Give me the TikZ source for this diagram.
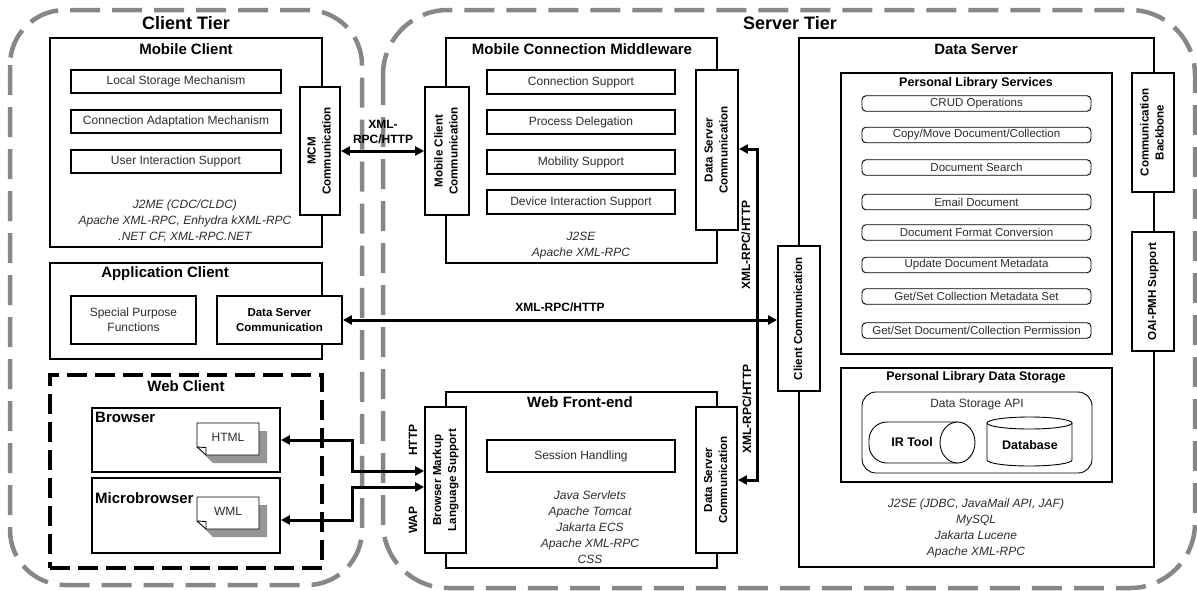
\documentclass[tikz,border=0pt]{standalone}
\usepackage{fontspec}
\setmainfont{Liberation Sans}
\usetikzlibrary{arrows.meta}
\definecolor{tiergray}{RGB}{135,135,135}
\definecolor{shadowgray}{RGB}{150,150,150}
\definecolor{txtgray}{RGB}{45,45,45}
\newcommand{\myvtext}[1]{\rotatebox{90}{\begin{tabular}{@{}c@{}}#1\end{tabular}}}
\begin{document}
\begin{tikzpicture}[x=1pt,y=-1pt,
  tier/.style={draw=tiergray, line width=4.5pt, dash pattern=on 30pt off 12pt},
  outerbox/.style={draw, line width=2.6pt, fill=white, inner sep=0pt},
  innerbox/.style={draw, line width=1.8pt, fill=white, inner sep=0pt, align=center, text=txtgray, font=\fontsize{12}{15}\selectfont},
  vbox/.style={draw, line width=1.8pt, fill=white, inner sep=0pt, font=\bfseries\fontsize{11.6}{15}\selectfont},
  svc/.style={draw, line width=0.9pt, rounded corners=4pt, fill=white, inner sep=0pt, minimum width=229pt, minimum height=15.5pt, text=txtgray, font=\fontsize{11.5}{13}\selectfont},
  boxtitle/.style={font=\bfseries\fontsize{15}{18}\selectfont},
  subtitle/.style={font=\bfseries\fontsize{12.5}{15}\selectfont},
  tiertitle/.style={font=\bfseries\fontsize{18}{22}\selectfont},
  tech/.style={align=center, text=txtgray, font=\itshape\fontsize{12}{16}\selectfont},
  plain/.style={text=txtgray, font=\fontsize{12}{15}\selectfont},
  thinline/.style={line width=0.9pt},
  conn/.style={line width=3pt, {Triangle[length=9pt,width=9pt]}-{Triangle[length=9pt,width=9pt]}},
  conlbl/.style={font=\bfseries\fontsize{12}{15}\selectfont, align=center},
]
\useasboundingbox (0,0) rectangle (1197,590);
% tiers
\draw[tier, rounded corners=55pt] (10,10) rectangle (362,585);
\draw[tier, rounded corners=65pt] (383,10) rectangle (1195,588);
\node[tiertitle] (clienttier) at (186,23) {Client Tier};
\node[tiertitle] (servertier) at (790,23) {Server Tier};

% Mobile client
\node[outerbox, minimum width=272pt, minimum height=209pt] (mobile) at (186,142.5) {};
\node[boxtitle] (mobilet) at (186,49) {Mobile Client};
\node[innerbox, minimum width=210pt, minimum height=23pt] (lsm) at (176,81.5) {Local Storage Mechanism};
\node[innerbox, minimum width=210pt, minimum height=23pt] (cam) at (176,121.5) {Connection Adaptation Mechanism};
\node[innerbox, minimum width=210pt, minimum height=23pt] (uis) at (176,161.5) {User Interaction Support};
\node[vbox, minimum width=40pt, minimum height=128pt] (mcmc) at (320,151) {\myvtext{MCM\\Communication}};
\node[tech] (mobtech) at (185,221) {J2ME (CDC/CLDC)\\Apache XML-RPC, Enhydra kXML-RPC\\.NET CF, XML-RPC.NET};

% Mobile Connection Middleware
\node[outerbox, minimum width=271pt, minimum height=225pt] (mcm) at (581.5,150.5) {};
\node[boxtitle] (mcmt) at (582,49) {Mobile Connection Middleware};
\node[innerbox, minimum width=188pt, minimum height=24pt] (cs) at (581,82) {Connection Support};
\node[innerbox, minimum width=188pt, minimum height=24pt] (pd) at (581,122) {Process Delegation};
\node[innerbox, minimum width=188pt, minimum height=24pt] (ms) at (581,162) {Mobility Support};
\node[innerbox, minimum width=188pt, minimum height=24pt] (dis) at (581,202) {Device Interaction Support};
\node[vbox, minimum width=44pt, minimum height=128pt] (mcc) at (447,151) {\myvtext{Mobile Client\\Communication}};
\node[vbox, minimum width=42pt, minimum height=160pt] (mdsc) at (717,150) {\myvtext{Data Server\\Communication}};
\node[tech] (mcmtech) at (581,246) {J2SE\\Apache XML-RPC};

% Data server
\node[outerbox, minimum width=355pt, minimum height=529pt] (ds) at (976.5,302.5) {};
\node[boxtitle] (dst) at (976,49) {Data Server};
\node[innerbox, minimum width=271pt, minimum height=281pt] (pls) at (976.5,213.5) {};
\node[subtitle] (plst) at (976,83) {Personal Library Services};
\node[svc] (s1) at (976.5,103.5) {CRUD Operations};
\node[svc] (s2) at (976.5,135) {Copy/Move Document/Collection};
\node[svc] (s3) at (976.5,167.5) {Document Search};
\node[svc] (s4) at (976.5,202) {Email Document};
\node[svc] (s5) at (976.5,232.5) {Document Format Conversion};
\node[svc] (s6) at (976.5,265) {Update Document Metadata};
\node[svc] (s7) at (976.5,296.5) {Get/Set Collection Metadata Set};
\node[svc] (s8) at (976.5,330.5) {Get/Set Document/Collection Permission};
\node[vbox, minimum width=42pt, minimum height=119pt] (cb) at (1153,132.5) {\myvtext{Communication\\Backbone}};
\node[vbox, minimum width=42pt, minimum height=119pt] (oai) at (1153,291.5) {\myvtext{OAI-PMH Support}};
\node[vbox, minimum width=42pt, minimum height=145pt] (cc) at (799,318.5) {\myvtext{Client Communication}};
\node[innerbox, minimum width=271pt, minimum height=114pt] (plds) at (976.5,425) {};
\node[subtitle] (pldst) at (976,377) {Personal Library Data Storage};
\node[draw, thinline, rounded corners=14pt, minimum width=230pt, minimum height=81pt] (dsapi) at (977,432.5) {};
\node[plain] (dsapit) at (977,405) {Data Storage API};
\draw[thinline, rounded corners=18pt] (957.5,422) -- (869,422) -- (869,463) -- (957.5,463);
\draw[thinline, fill=white] (957.5,442.5) ellipse[x radius=17.5, y radius=20.5];
\node[subtitle] (irtool) at (912,442) {IR Tool};
\draw[thinline, fill=white] (987,423) -- (987,460) arc[start angle=180, end angle=0, x radius=42.5, y radius=6] -- (1072,423);
\draw[thinline, fill=white] (1029.5,423) ellipse[x radius=42.5, y radius=6];
\node[subtitle] (dbt) at (1030,445) {Database};
\node[tech] (dstech) at (976,528.5) {J2SE (JDBC, JavaMail API, JAF)\\MySQL\\Jakarta Lucene\\Apache XML-RPC};

% Application client
\node[outerbox, minimum width=272pt, minimum height=96pt] (app) at (186,311) {};
\node[boxtitle] (appt) at (165,274) {Application Client};
\node[innerbox, minimum width=125pt, minimum height=48pt] (spf) at (133.5,320) {Special Purpose\\Functions};
\node[innerbox, minimum width=125pt, minimum height=48pt, text=black, font=\bfseries\fontsize{11.5}{15}\selectfont] (adsc) at (279.5,320) {Data Server\\Communication};

% Web client
\node[draw, line width=3.2pt, dash pattern=on 20pt off 8pt, fill=white, minimum width=272pt, minimum height=193pt] (web) at (186,471.5) {};
\node[boxtitle] (webt) at (186,386) {Web Client};
\node[innerbox, minimum width=188pt, minimum height=64pt] (browser) at (186,440) {};
\node[boxtitle, anchor=west, inner sep=0pt] (browsert) at (95,417) {Browser};
\fill[shadowgray] (205,431) -- (267,431) -- (267,463) -- (213,463) -- (205,455) -- cycle;
\draw[thinline, fill=white] (197,423) -- (259,423) -- (259,455) -- (206,455) -- (197,447) -- cycle;
\draw[thinline] (197,447) -- (206,447.5) -- (206,455);
\node[plain] (html) at (228,437) {HTML};
\node[innerbox, minimum width=188pt, minimum height=75pt] (micro) at (186,515.5) {};
\node[boxtitle, anchor=west, inner sep=0pt] (microt) at (95,498) {Microbrowser};
\begin{scope}[shift={(0,74)}]
\fill[shadowgray] (205,431) -- (267,431) -- (267,463) -- (213,463) -- (205,455) -- cycle;
\draw[thinline, fill=white] (197,423) -- (259,423) -- (259,455) -- (206,455) -- (197,447) -- cycle;
\draw[thinline] (197,447) -- (206,447.5) -- (206,455);
\node[plain] (wml) at (228,437) {WML};
\end{scope}

% Web front-end
\node[outerbox, minimum width=271pt, minimum height=176pt] (wfe) at (581.5,480) {};
\node[boxtitle] (wfet) at (580,402) {Web Front-end};
\node[vbox, minimum width=41pt, minimum height=146pt] (bml) at (445.5,480) {\myvtext{Browser Markup\\Language Support}};
\node[innerbox, minimum width=188pt, minimum height=32pt] (sh) at (581,456) {Session Handling};
\node[vbox, minimum width=41pt, minimum height=146pt] (wdsc) at (716.5,480) {\myvtext{Data Server\\Communication}};
\node[tech] (wfetech) at (590,527) {Java Servlets\\Apache Tomcat\\Jakarta ECS\\Apache XML-RPC\\CSS};

% connectors
\draw[conn] (mcmc.east) -- (mcc.west);
\node[conlbl] (lbltop) at (383,132) {XML-\\RPC/HTTP};
\draw[conn] (adsc.east) -- (adsc.east -| cc.west);
\node[conlbl] (lblmid) at (560,307) {XML-RPC/HTTP};
\coordinate (vt) at (757,149);
\coordinate (vb) at (757,480);
\draw[conn] (mdsc.east |- vt) -- (vt) -- (vb) -- (wdsc.east |- vb);
\node[conlbl, rotate=90] (lblv1) at (746,245) {XML-RPC/HTTP};
\node[conlbl, rotate=90] (lblv2) at (747,409) {XML-RPC/HTTP};
\coordinate (bj) at (352,471);
\coordinate (mj) at (352,487);
\coordinate (mya) at (0,520);
\draw[conn] (browser.east) -| (bj) -- (bj -| bml.west);
\draw[conn] (micro.east |- mya) -| (mj) -- (mj -| bml.west);
\node[conlbl, rotate=90] (lblhttp) at (413,440) {HTTP};
\node[conlbl, rotate=90] (lblwap) at (413,520) {WAP};
\end{tikzpicture}
\end{document}
